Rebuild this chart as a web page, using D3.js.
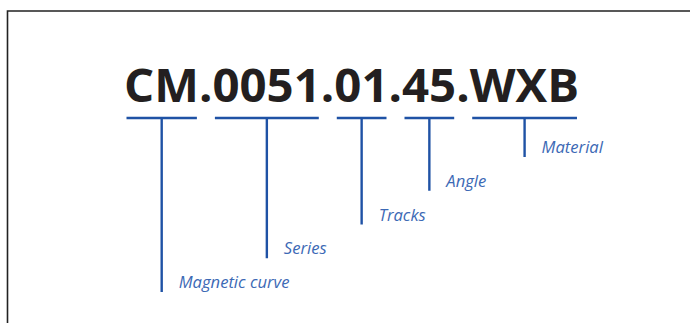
<!DOCTYPE html>
<html>
<head>
<meta charset="utf-8">
<script src="https://cdn.jsdelivr.net/npm/d3@7"></script>
<style>
  body { margin: 0; background: #fff; }
  svg { display: block; }
</style>
</head>
<body>
<svg id="chart" width="690" height="323"></svg>
<script>
// code parts and what each one means
var parts = ["CM", "0051", "01", "45", "WXB"];
var labels = ["Magnetic curve", "Series", "Tracks", "Angle", "Material"];
// drop level of each leader line (0 = deepest)
var levels = [0, 1, 2, 3, 4];

var width = 690, height = 323;
var svg = d3.select("#chart");

var lineColor = "#1f52a5", labelColor = "#3c69b5";

// frame: left and top edges only
svg.append("path")
    .attr("d", "M7.5," + height + "V11H" + width)
    .attr("fill", "none")
    .attr("stroke", "#222")
    .attr("stroke-width", 1.6);

var code = svg.append("text")
    .attr("x", 124)
    .attr("y", 102)
    .style("font-family", "'Open Sans'")
    .style("font-weight", 700)
    .style("font-size", "47.4px")
    .attr("fill", "#231f20")
    .text(parts.join("."));

var codeEl = code.node();

// glyph ranges of each part inside the code string
var start = 0;
var spans = parts.map(function(p) {
  var s = { first: start, last: start + p.length - 1 };
  start += p.length + 1;
  return s;
});

var underY = 118;
var y = d3.scaleLinear().domain([0, 4]).range([292, 157]);

var groups = svg.selectAll(".part")
    .data(parts.map(function(p, i) {
      var a = codeEl.getExtentOfChar(spans[i].first),
          b = codeEl.getExtentOfChar(spans[i].last);
      return { x0: a.x + 2.5, x1: b.x + b.width - 2, label: labels[i], level: levels[i] };
    }))
  .enter().append("g")
    .attr("class", "part");

groups.append("line")
    .attr("x1", function(d) { return d.x0; })
    .attr("x2", function(d) { return d.x1; })
    .attr("y1", underY)
    .attr("y2", underY)
    .attr("stroke", lineColor)
    .attr("stroke-width", 2.6);

groups.append("line")
    .attr("x1", function(d) { return (d.x0 + d.x1) / 2; })
    .attr("x2", function(d) { return (d.x0 + d.x1) / 2; })
    .attr("y1", underY)
    .attr("y2", function(d) { return y(d.level); })
    .attr("stroke", lineColor)
    .attr("stroke-width", 2.4);

groups.append("text")
    .attr("x", function(d) { return (d.x0 + d.x1) / 2 + 17; })
    .attr("y", function(d) { return y(d.level) - 4; })
    .style("font-family", "'Open Sans'")
    .style("font-style", "italic")
    .style("font-size", "16.6px")
    .attr("fill", labelColor)
    .text(function(d) { return d.label; });
</script>
</body>
</html>
